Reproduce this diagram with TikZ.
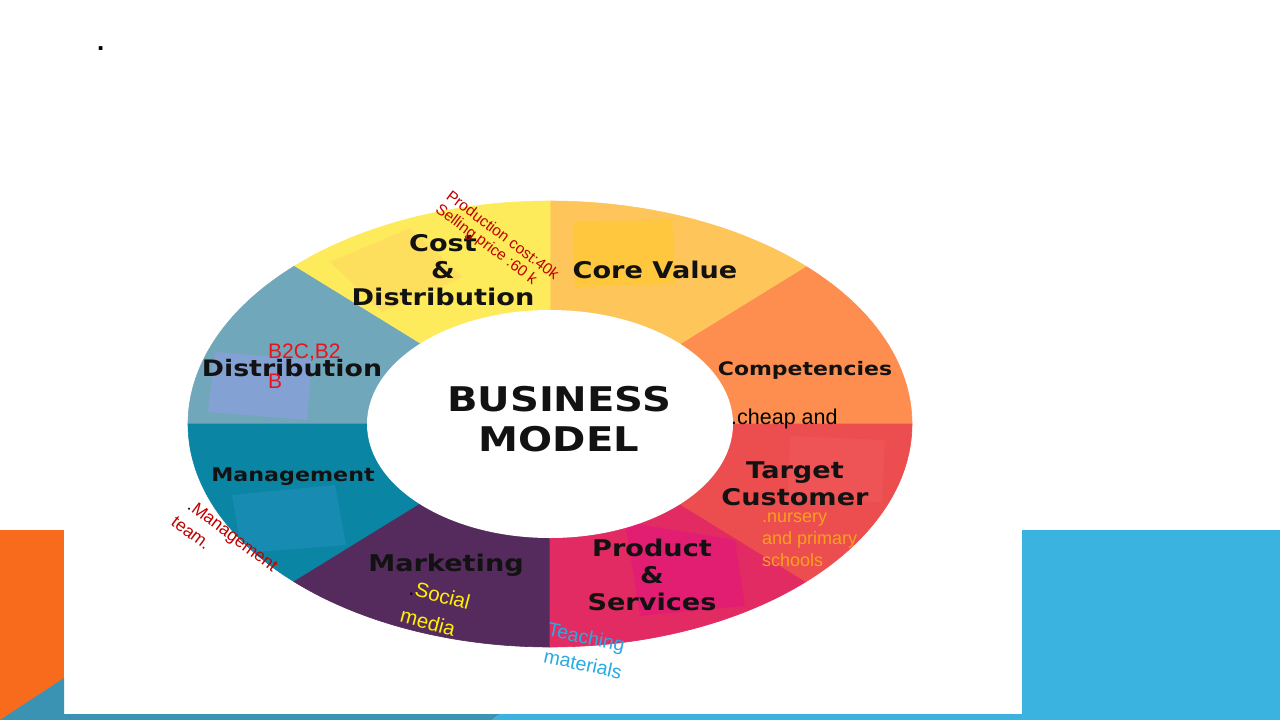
\documentclass[tikz,border=0pt]{standalone}
\usepackage{fontspec}
\setmainfont{Liberation Sans}
\newfontfamily\labfont[FakeStretch=1.18]{DejaVu Sans}
\definecolor{cComp}{HTML}{FD8E4F}
\definecolor{cCore}{HTML}{FEC65A}
\definecolor{cCost}{HTML}{FEEB5C}
\definecolor{cDist}{HTML}{70A7BA}
\definecolor{cMgmt}{HTML}{0A86A4}
\definecolor{cMark}{HTML}{552B5E}
\definecolor{cProd}{HTML}{E22B62}
\definecolor{cTarg}{HTML}{EC4D4E}
\definecolor{cOrange}{HTML}{F96B1C}
\definecolor{cTeal}{HTML}{3A93B3}
\definecolor{cBlue}{HTML}{3AB3E0}
\definecolor{cDarkRed}{HTML}{C00000}
\definecolor{cRed}{HTML}{E8141C}
\definecolor{cNurs}{HTML}{F9A11B}
\definecolor{cSoc}{HTML}{FFF200}
\definecolor{cTeach}{HTML}{29ABE2}
\newcommand\ringseg[3]{\filldraw[fill=#3,draw=#3,line width=0.6pt] (550,424) -- plot[domain=#1:#2,samples=40] ({550+362*cos(\x)},{424-223*sin(\x)}) -- cycle;}
\begin{document}
\begin{tikzpicture}[x=1pt,y=-1pt,
  lab/.style={font=\labfont\bfseries\fontsize{23}{27}\selectfont, align=center, inner sep=0pt, text=black!93},
  ann/.style={inner sep=0pt, align=left},
  overlay/.style={opacity=0.75}]
\useasboundingbox (0,0) rectangle (1280,720);
\fill[white] (0,0) rectangle (1280,720);
% bottom decoration
\fill[cOrange] (0,530) rectangle (64,720);
\fill[cTeal] (0,720) -- (64,678) -- (64,720) -- cycle;
\fill[cTeal] (64,714) -- (500,714) -- (492,720) -- (64,720) -- cycle;
\fill[cBlue] (500,714) -- (1022,714) -- (1022,720) -- (492,720) -- cycle;
\fill[cBlue] (1022,530) rectangle (1280,720);
% dot
\node[anchor=base west, inner sep=0pt, font=\bfseries\fontsize{26}{26}\selectfont] (dot) at (97,50) {.};
% ring segments
\ringseg{0}{45}{cComp}
\ringseg{45}{90}{cCore}
\ringseg{90}{135}{cCost}
\ringseg{135}{180}{cDist}
\ringseg{180}{225}{cMgmt}
\ringseg{225}{270}{cMark}
\ringseg{270}{315}{cProd}
\ringseg{315}{360}{cTarg}
% faint overlay squares
\begin{scope}
\clip (550,424) ellipse [x radius=362, y radius=223];
\fill[overlay, fill={rgb,255:red,255;green,200;blue,52}] (573,222) -- (672,220) -- (676,284) -- (575,287) -- cycle;
\fill[overlay, fill={rgb,255:red,253;green,220;blue,94}] (330,262) -- (410,228) -- (463,277) -- (382,312) -- cycle;
\fill[overlay, fill={rgb,255:red,140;green,159;blue,221}] (215,352) -- (312,360) -- (307,420) -- (208,412) -- cycle;
\fill[overlay, fill={rgb,255:red,28;green,142;blue,182}] (232,495) -- (335,485) -- (346,545) -- (242,553) -- cycle;
\fill[overlay, fill={rgb,255:red,227;green,26;blue,121}] (625,522) -- (735,540) -- (745,606) -- (640,616) -- cycle;
\fill[overlay, fill={rgb,255:red,240;green,86;blue,88}] (790,436) -- (885,440) -- (882,502) -- (788,500) -- cycle;
\end{scope}
% inner white ellipse
\fill[white] (550,424) ellipse [x radius=183, y radius=114];
% centre title
\node[lab, font=\labfont\bfseries\fontsize{34}{40}\selectfont] (title) at (559,419) {BUSINESS\\MODEL};
% segment labels
\node[lab] (cost) at (443,270) {Cost\\\&\\Distribution};
\node[lab] (core) at (655,270) {Core Value};
\node[lab, font=\labfont\bfseries\fontsize{18.6}{22}\selectfont] (comp) at (805,370) {Competencies};
\node[lab] (targ) at (795,484) {Target\\Customer};
\node[lab] (prod) at (652,575) {Product\\\&\\Services};
\node[lab] (mark) at (446,565) {Marketing};
\node[lab, font=\labfont\bfseries\fontsize{18.8}{22}\selectfont] (mgmt) at (293,477) {Management};
\node[lab, font=\labfont\bfseries\fontsize{22.7}{27}\selectfont] (dist) at (292,368) {Distribution};
% annotations
\node[ann, text=cDarkRed, rotate=-37, font=\fontsize{15.5}{18}\selectfont] (prodcost) at (503,235) {Production cost:40k};
\node[ann, text=cDarkRed, rotate=-37, font=\fontsize{15.5}{18}\selectfont] (selling) at (486,245) {Selling price :60 k};
\node[ann, text=cRed, anchor=base west, font=\fontsize{21}{30}\selectfont] (b2c) at (268,388) {B2C,B2\\B};
\node[ann, text=black, anchor=base west, font=\fontsize{21.5}{24}\selectfont] (cheap) at (731,424) {.cheap and};
\node[ann, text=cNurs, anchor=base west, font=\fontsize{18}{22}\selectfont] (nurs) at (762,566) {.nursery\\and primary\\schools};
\node[ann, text=cDarkRed, rotate=-37, font=\fontsize{17.5}{20}\selectfont] (mteam1) at (232,537) {\textcolor{black}{.}Management};
\node[ann, text=cDarkRed, rotate=-37, font=\fontsize{17.5}{20}\selectfont] (mteam2) at (191,533) {team.};
\node[ann, text=cSoc, rotate=-15, font=\fontsize{20.5}{22}\selectfont] (soc1) at (440,595) {\textcolor{black}{.}Social};
\node[ann, text=cSoc, rotate=-15, font=\fontsize{20.5}{22}\selectfont] (soc2) at (428,622) {media};
\node[ann, text=cTeach, rotate=-12, font=\fontsize{19.5}{22}\selectfont] (teach1) at (586,639) {Teaching};
\node[ann, text=cTeach, rotate=-12, font=\fontsize{19.5}{22}\selectfont] (teach2) at (583,664) {materials};
\end{tikzpicture}
\end{document}
